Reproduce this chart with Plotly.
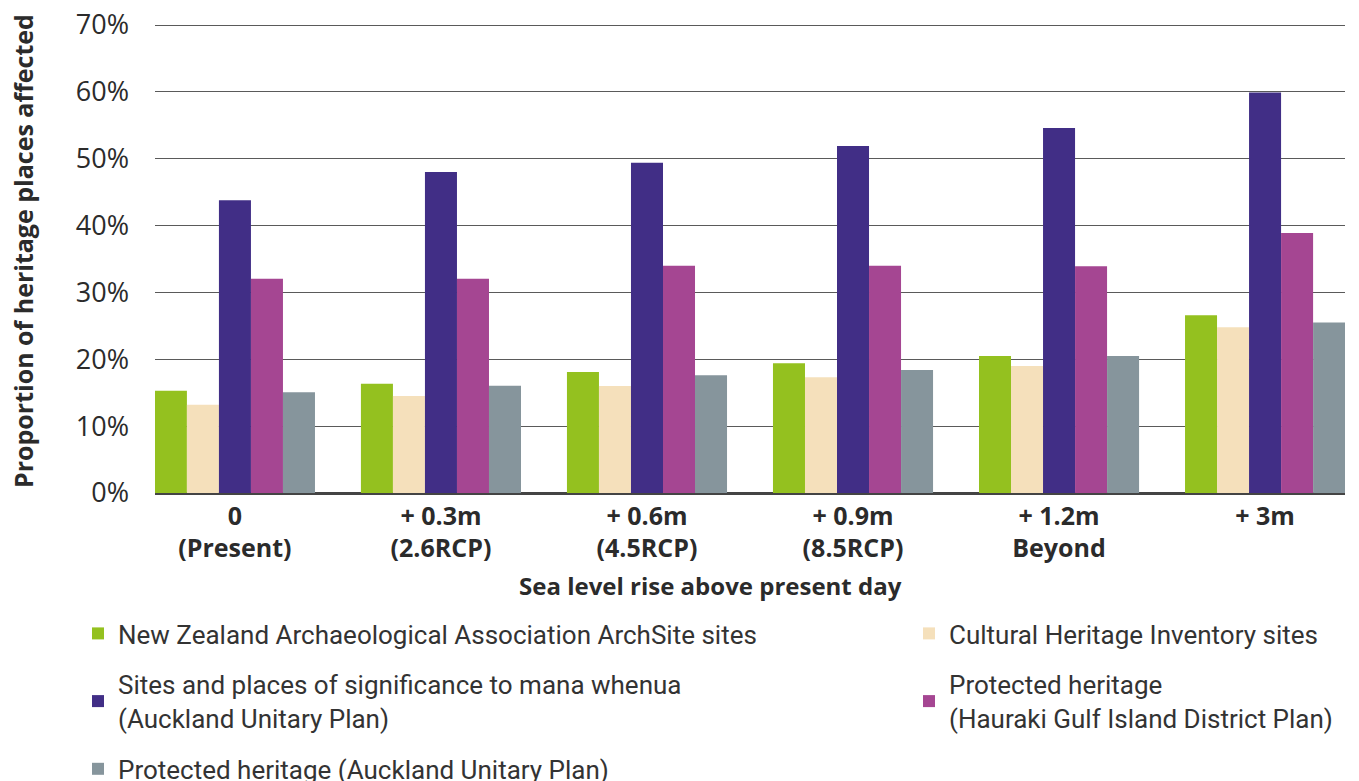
import plotly.graph_objects as go

categories = ["0<br>(Present)", "+ 0.3m<br>(2.6RCP)", "+ 0.6m<br>(4.5RCP)",
              "+ 0.9m<br>(8.5RCP)", "+ 1.2m<br>Beyond", "+ 3m"]

nzaa = [15.3, 16.35, 18.1, 19.4, 20.5, 26.6]
chi = [13.2, 14.5, 16.0, 17.3, 19.0, 24.8]
mana = [43.8, 48.0, 49.4, 51.9, 54.6, 59.9]
hauraki = [32.05, 32.05, 34.0, 34.0, 33.9, 38.9]
aup = [15.06, 16.05, 17.6, 18.4, 20.5, 25.5]

series_names = [
    "New Zealand Archaeological Association ArchSite sites",
    "Cultural Heritage Inventory sites",
    "Sites and places of significance to mana whenua<br>(Auckland Unitary Plan)",
    "Protected heritage<br>(Hauraki Gulf Island District Plan)",
    "Protected heritage (Auckland Unitary Plan)",
]
series_values = [nzaa, chi, mana, hauraki, aup]
colors = ["#94C11F", "#F5E0BB", "#412E86", "#A54692", "#86959C"]
legend_ids = ["legend", "legend2", "legend", "legend2", "legend"]

tick_vals = [0, 10, 20, 30, 40, 50, 60, 70]
tick_text = ["0%", "10%", "20%", "30%", "40%", "50%", "60%", "70%"]

fig = go.Figure()
for i, (name, vals, col, lg) in enumerate(zip(series_names, series_values, colors, legend_ids)):
    fig.add_trace(go.Bar(x=categories, y=vals, name=name, legend=lg,
                         legendgroup="g%d" % i,
                         marker=dict(color=col, line=dict(width=0))))

# page body adds an 8px offset; figure coords = screen coords - 8
W, H = 1351, 773
ml, mr, mt, mb = 147, 14, 15, 288
TXT = "#2b2b2b"
legend_common = dict(
    orientation="v",
    xref="container", yref="container",
    xanchor="left", yanchor="top",
    font=dict(family="Roboto", size=26, color="#333333"),
    tracegroupgap=14,
    bgcolor="rgba(0,0,0,0)",
    itemwidth=30,
)
fig.update_layout(
    width=W, height=H,
    margin=dict(l=ml, r=mr, t=mt, b=mb, autoexpand=False),
    paper_bgcolor="white", plot_bgcolor="white",
    barmode="group", bargap=0.223, bargroupgap=0,
    font=dict(family="Open Sans", color=TXT),
    showlegend=True,
    legend=dict(x=70 / W, y=1 - 602 / H, **legend_common),
    legend2=dict(x=901 / W, y=1 - 602 / H, **legend_common),
)
fig.update_xaxes(
    range=[-0.388, 5.388],
    showgrid=False, showline=True, linecolor="#444444", linewidth=1.5,
    tickfont=dict(family="Open Sans", size=25, color=TXT, weight="bold"),
    ticks="", ticklabelstandoff=0,
)
fig.update_yaxes(
    range=[0, 70.3], tickvals=tick_vals, ticktext=tick_text,
    showgrid=True, gridcolor="#5a5a5a", gridwidth=1.3,
    zeroline=True, zerolinecolor="#444444", zerolinewidth=1.5,
    tickfont=dict(family="Open Sans", size=27, color=TXT),
    ticks="", ticklabelstandoff=25, ticklabeloverflow="allow",
)
pw, ph = W - ml - mr, H - mt - mb
fig.add_annotation(
    text="<b>Sea level rise above present day</b>",
    xref="paper", yref="paper",
    x=(702 - ml) / pw, y=-(577 - (H - mb)) / ph,
    xanchor="center", yanchor="middle", showarrow=False,
    font=dict(family="Open Sans", size=24, color=TXT),
)
fig.add_annotation(
    text="<b>Proportion of heritage places affected</b>",
    xref="paper", yref="paper",
    x=-(ml - 15) / pw, y=((H - mb) - 243) / ph,
    xanchor="center", yanchor="middle", showarrow=False, textangle=-90,
    font=dict(family="Open Sans", size=25, color=TXT),
)

fig.write_html("out.html")
